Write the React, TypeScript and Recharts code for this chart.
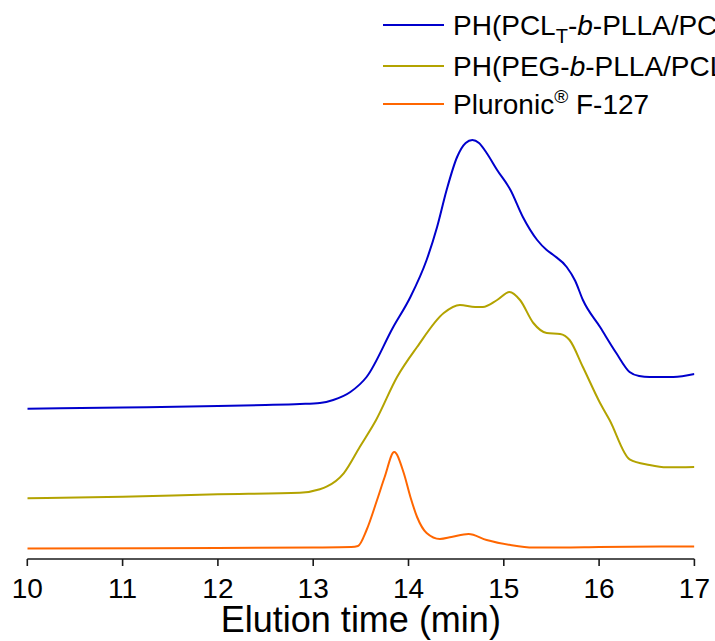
import { LineChart, Line, XAxis, YAxis, Label, Legend } from "recharts";

const FONT = "'Liberation Sans', Arial, sans-serif";

// elution time (min) and detector signal (arb. units)
const blueTime = [10, 11, 12, 12.5, 12.86, 13.07, 13.21, 13.39, 13.56, 13.84, 14.02, 14.19, 14.3, 14.4, 14.51, 14.6, 14.67, 14.74, 14.82, 14.93, 15.07, 15.2, 15.35, 15.45, 15.52, 15.66, 15.75, 15.83, 16.01, 16.18, 16.32, 16.42, 16.53, 16.78, 17];
const blueSignal = [15.03, 15.15, 15.3, 15.4, 15.5, 15.6, 15.9, 16.7, 18.2, 23.2, 26.2, 29.9, 33.2, 36.9, 40.2, 41.6, 41.9, 41.6, 40.6, 38.9, 36.9, 34.2, 31.9, 30.9, 30.4, 29.2, 27.8, 25.9, 23.2, 20.6, 18.7, 18.3, 18.2, 18.2, 18.5];

const oliveTime = [10, 11, 12, 12.86, 13.07, 13.14, 13.32, 13.49, 13.66, 13.88, 14.09, 14.37, 14.54, 14.7, 14.78, 14.93, 15.06, 15.17, 15.31, 15.45, 15.59, 15.69, 15.83, 16.01, 16.11, 16.32, 16.53, 16.71, 17];
const oliveSignal = [6.07, 6.23, 6.47, 6.63, 6.97, 7.23, 8.57, 11.23, 13.9, 18.2, 21.2, 24.6, 25.4, 25.2, 25.2, 25.9, 26.7, 25.9, 23.6, 22.6, 22.5, 21.9, 19.2, 15.6, 13.9, 9.97, 9.4, 9.17, 9.2];

const orangeTime = [10, 12, 13, 13.4, 13.47, 13.56, 13.67, 13.75, 13.85, 13.95, 14.02, 14.09, 14.19, 14.33, 14.45, 14.63, 14.82, 15.07, 15.31, 15.6, 16, 17];
const orangeSignal = [1.05, 1.1, 1.15, 1.2, 1.3, 2.9, 5.9, 8.2, 10.7, 8.6, 6.2, 4.2, 2.6, 2.0, 2.2, 2.5, 1.9, 1.4, 1.15, 1.15, 1.2, 1.25];

const xTicks = [10, 11, 12, 13, 14, 15, 16, 17];

const series = [
  { name: "PH(PCL_T-b-PLLA/PCL)", color: "#0000CC", time: blueTime, signal: blueSignal },
  { name: "PH(PEG-b-PLLA/PCL)", color: "#B3A300", time: oliveTime, signal: oliveSignal },
  { name: "Pluronic® F-127", color: "#FF6600", time: orangeTime, signal: orangeSignal },
];

const toRows = (time: number[], signal: number[]) =>
  time.map((t, i) => ({ t, v: signal[i] }));

function LegendBox() {
  const rows = [
    { color: "#0000CC", y: 25 },
    { color: "#B3A300", y: 66 },
    { color: "#FF6600", y: 104 },
  ];
  return (
    <svg width={340} height={125} style={{ overflow: "visible" }}>
      {rows.map((r) => (
        <line key={r.y} x1={8} x2={69} y1={r.y} y2={r.y} stroke={r.color} strokeWidth={2} />
      ))}
      <text x={78} y={35} fontFamily={FONT} fontSize={28} fill="#000">
        <tspan>PH(PCL</tspan>
        <tspan dy={8} fontSize={20}>T</tspan>
        <tspan dy={-8}>-</tspan>
        <tspan fontStyle="italic">b</tspan>
        <tspan>-PLLA/PCL)</tspan>
      </text>
      <text x={78} y={76} fontFamily={FONT} fontSize={28} fill="#000">
        <tspan>PH(PEG-</tspan>
        <tspan fontStyle="italic">b</tspan>
        <tspan>-PLLA/PCL)</tspan>
      </text>
      <text x={78} y={114} fontFamily={FONT} fontSize={28} fill="#000">
        <tspan>Pluronic</tspan>
        <tspan dy={-11} fontSize={19}>®</tspan>
        <tspan dy={11}> F-127</tspan>
      </text>
    </svg>
  );
}

export default function App() {
  return (
    <div
      style={{
        position: "fixed",
        left: 0,
        top: 0,
        width: 715,
        height: 641,
        overflow: "hidden",
        background: "#fff",
      }}
    >
      <LineChart
        width={715}
        height={641}
        margin={{ top: 19, right: 20.6, left: 27.3, bottom: 0 }}
      >
        <XAxis
          dataKey="t"
          type="number"
          domain={[10, 17]}
          ticks={xTicks}
          allowDataOverflow
          height={82}
          tickSize={7}
          tickMargin={12}
          stroke="#1a1a1a"
          strokeWidth={1.6}
          tick={{ fontSize: 28, fill: "#000", fontFamily: FONT }}
        >
          <Label
            value="Elution time (min)"
            position="insideBottom"
            offset={9}
            style={{ fontSize: 36, fill: "#000", fontFamily: FONT }}
          />
        </XAxis>
        <YAxis hide type="number" domain={[0, 54]} width={0} />
        <Legend
          layout="vertical"
          align="center"
          verticalAlign="middle"
          wrapperStyle={{ position: "absolute", top: 0, left: 375, width: 340 }}
          content={() => <LegendBox />}
        />
        {series.map((s) => (
          <Line
            key={s.name}
            name={s.name}
            data={toRows(s.time, s.signal)}
            dataKey="v"
            type="monotone"
            stroke={s.color}
            strokeWidth={2}
            dot={false}
            isAnimationActive={false}
          />
        ))}
      </LineChart>
    </div>
  );
}
